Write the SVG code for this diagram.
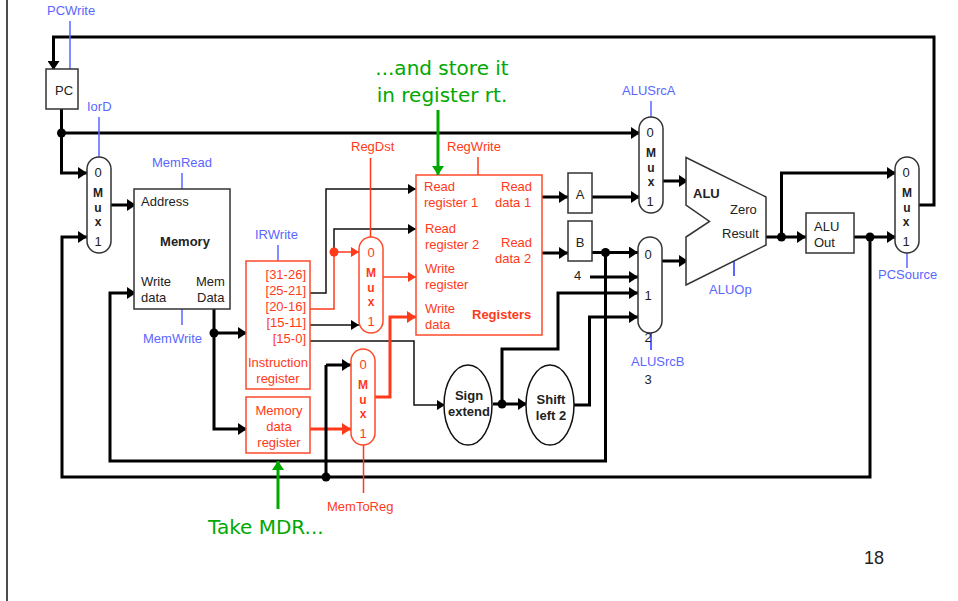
<svg xmlns="http://www.w3.org/2000/svg" width="958" height="601" viewBox="0 0 958 601">
<style>
text{font-family:"Liberation Sans",Arial,sans-serif;font-size:13px;fill:#222}
.b{font-weight:700}
.x{font-size:12px}
.m{text-anchor:middle}
.e{text-anchor:end}
.r{fill:#ff3a1a}
.u{fill:#5a66ff}
.g{font-family:"DejaVu Sans",Verdana,sans-serif;font-size:20px;fill:#00a800}
.box{fill:#fff;stroke:#333;stroke-width:1.5}
.rbox{fill:#fff;stroke:#ff4a2a;stroke-width:1.5}
.w{fill:none;stroke:#000;stroke-width:3;stroke-linejoin:miter}
.wa{fill:none;stroke:#000;stroke-width:3;marker-end:url(#ak)}
.t{fill:none;stroke:#111;stroke-width:1.5}
.ta{fill:none;stroke:#111;stroke-width:1.5;marker-end:url(#as)}
.ra{fill:none;stroke:#ff3a1a;stroke-width:1.5;marker-end:url(#ar)}
.rt{fill:none;stroke:#ff3a1a;stroke-width:1.5}
.rw{fill:none;stroke:#ff3a1a;stroke-width:3;marker-end:url(#ar2)}
.ub{fill:none;stroke:#5a66ff;stroke-width:1.5}
.gl{fill:none;stroke:#00a800;stroke-width:3;marker-end:url(#ag)}
</style>
<defs>
<marker id="ak" markerUnits="userSpaceOnUse" markerWidth="9" markerHeight="12" refX="9" refY="6" orient="auto"><path d="M0 0L9 6L0 12Z" fill="#000"/></marker>
<marker id="as" markerUnits="userSpaceOnUse" markerWidth="8" markerHeight="10" refX="8" refY="5" orient="auto"><path d="M0 0L8 5L0 10Z" fill="#000"/></marker>
<marker id="ar" markerUnits="userSpaceOnUse" markerWidth="8" markerHeight="10" refX="8" refY="5" orient="auto"><path d="M0 0L8 5L0 10Z" fill="#ff3a1a"/></marker>
<marker id="ar2" markerUnits="userSpaceOnUse" markerWidth="9" markerHeight="12" refX="9" refY="6" orient="auto"><path d="M0 0L9 6L0 12Z" fill="#ff3a1a"/></marker>
<marker id="ag" markerUnits="userSpaceOnUse" markerWidth="9" markerHeight="12" refX="9" refY="6" orient="auto"><path d="M0 0L9 6L0 12Z" fill="#00a800"/></marker>
</defs>
<rect width="958" height="601" fill="#fff"/>
<path d="M7 0V601" stroke="#111" stroke-width="1.5" fill="none"/>

<g id="connectors">
<path class="wa" d="M918 205H934V37H53.500V70"/>
<path class="w" d="M61.500 109V133"/>
<path class="wa" d="M61.500 133V173H87"/>
<path class="wa" d="M61.500 133H640"/>
<path class="wa" d="M111 205H136"/>
<path class="wa" d="M870 237V477H62V237H87"/>
<path class="wa" d="M605.500 252.500V461H110V293H136"/>
<path class="wa" d="M214 309V429H247"/>
<path class="wa" d="M214 333H247"/>
<path class="ta" d="M310 293H326V189H416"/>
<path class="ta" d="M334 252V229H416"/>
<path class="rt" d="M310 309H334V252"/>
<path class="ra" d="M334 252H359"/>
<path class="ta" d="M310 325H359"/>
<path class="ta" d="M310 341H414V405H445"/>
<path class="ra" d="M383 277H416"/>
<path class="rw" d="M310 429H351"/>
<path class="rw" d="M375 397H390V317H416"/>
<path class="wa" d="M542 197H568"/>
<path class="wa" d="M542 253H568"/>
<path class="wa" d="M592 197H640"/>
<path class="wa" d="M592 252.500H638"/>
<path class="wa" d="M590 277H638"/>
<path class="wa" d="M502 404V349H558V293H638"/>
<path class="wa" d="M574 405H589.500V317H638"/>
<path class="wa" d="M493 404H527"/>
<path class="wa" d="M663 181H688"/>
<path class="wa" d="M662 261H688"/>
<path class="wa" d="M766 237H806"/>
<path class="wa" d="M781.500 237V173H896"/>
<path class="wa" d="M854 237H896"/>
<path class="w" d="M326 477V365"/>
<path class="wa" d="M326 365H351"/>
<path class="ub" d="M70 21V69M99 117V157M182 173V189M182 309V325M278 245V261M651 101V117M907 253V268"/>
<path class="ub" d="M651 333V350M734 261V276" style="stroke-width:2"/>
<path class="rt" d="M370.500 158V237M478 157V175M363.500 445V493"/>
<circle cx="61.500" cy="133" r="4.500"/>
<circle cx="214" cy="333" r="4.500"/>
<circle cx="334" cy="252" r="4.500" fill="#ff3a1a"/>
<circle cx="605.500" cy="252.500" r="4.500"/>
<circle cx="326" cy="477" r="4.500"/>
<circle cx="502" cy="404" r="4.500"/>
<circle cx="781.500" cy="237" r="4.500"/>
<circle cx="870" cy="237" r="4.500"/>
</g>

<g id="pc"><rect class="box" x="46" y="69" width="32" height="40"/><text x="55" y="95">PC</text></g>
<g id="pcwrite"><text class="u" x="47" y="15">PCWrite</text></g>
<g id="iord"><text class="u" x="87" y="111">IorD</text></g>

<g id="mux-iord"><rect class="box" x="87" y="157" width="24" height="96" rx="12"/>
<text class="m" x="98" y="177">0</text><text class="m b x" x="98" y="197">M</text><text class="m b x" x="98" y="212">u</text><text class="m b x" x="98" y="226">x</text><text class="m" x="98" y="246">1</text></g>

<g id="memory"><rect class="box" x="134" y="189" width="96" height="120"/>
<text x="141" y="206">Address</text><text class="b m" x="185" y="246">Memory</text>
<text x="141" y="286">Write</text><text x="141" y="302">data</text>
<text x="196" y="286">Mem</text><text x="197" y="302">Data</text></g>
<g id="memread"><text class="u" x="152" y="167">MemRead</text></g>
<g id="memwrite"><text class="u" x="143" y="343">MemWrite</text></g>

<g id="ir"><rect class="rbox" x="246" y="261" width="64" height="128"/>
<text class="r e" x="306" y="279">[31-26]</text><text class="r e" x="306" y="295">[25-21]</text><text class="r e" x="306" y="311">[20-16]</text><text class="r e" x="306" y="327">[15-11]</text><text class="r e" x="306" y="343">[15-0]</text>
<text class="r m" x="278" y="367">Instruction</text><text class="r m" x="278" y="383">register</text></g>
<g id="irwrite"><text class="u" x="255" y="239">IRWrite</text></g>
<g id="mdr"><rect class="rbox" x="246" y="397" width="64" height="56"/>
<text class="r m" x="279" y="415">Memory</text><text class="r m" x="279" y="431">data</text><text class="r m" x="279" y="447">register</text></g>

<g id="mux-regdst"><rect class="rbox" x="359" y="237" width="24" height="96" rx="12"/>
<text class="r m" x="371" y="257">0</text><text class="r m b x" x="371" y="277">M</text><text class="r m b x" x="371" y="292">u</text><text class="r m b x" x="371" y="306">x</text><text class="r m" x="371" y="326">1</text></g>
<g id="regdst"><text class="r" x="351" y="151">RegDst</text></g>
<g id="mux-memtoreg"><rect class="rbox" x="351" y="349" width="24" height="96" rx="12"/>
<text class="r m" x="363" y="369">0</text><text class="r m b x" x="363" y="389">M</text><text class="r m b x" x="363" y="404">u</text><text class="r m b x" x="363" y="418">x</text><text class="r m" x="363" y="438">1</text></g>
<g id="memtoreg"><text class="r" x="327" y="511">MemToReg</text></g>

<g id="registers"><rect class="rbox" x="416" y="175" width="126" height="160" style="fill:none"/>
<text class="r" x="424" y="191">Read</text><text class="r" x="424" y="207">register 1</text>
<text class="r" x="425" y="233">Read</text><text class="r" x="425" y="249">register 2</text>
<text class="r" x="425" y="273">Write</text><text class="r" x="425" y="289">register</text>
<text class="r" x="425" y="313">Write</text><text class="r" x="425" y="329">data</text>
<text class="r" x="501" y="191">Read</text><text class="r" x="495" y="207">data 1</text>
<text class="r" x="501" y="247">Read</text><text class="r" x="495" y="263">data 2</text>
<text class="r b" x="472" y="319">Registers</text></g>
<g id="regwrite"><text class="r" x="447" y="151">RegWrite</text></g>

<g id="a"><rect class="box" x="568" y="173" width="24" height="40"/><text class="m" x="580" y="199">A</text></g>
<g id="b"><rect class="box" x="568" y="221" width="24" height="40"/><text class="m" x="580" y="247">B</text></g>
<g id="four"><text x="574" y="280">4</text></g>

<g id="sign"><ellipse cx="468" cy="405" rx="24" ry="40" fill="#fff" stroke="#111" stroke-width="1.500"/>
<text class="b m" x="469" y="400">Sign</text><text class="b m" x="469" y="416">extend</text></g>
<g id="shift"><ellipse cx="550" cy="405" rx="24" ry="40" fill="#fff" stroke="#111" stroke-width="1.500"/>
<text class="b m" x="551" y="404">Shift</text><text class="b m" x="551" y="420">left 2</text></g>

<g id="mux-alusrca"><rect class="box" x="639" y="117" width="24" height="96" rx="12"/>
<text class="m" x="650" y="137">0</text><text class="m b x" x="651" y="157">M</text><text class="m b x" x="651" y="172">u</text><text class="m b x" x="651" y="186">x</text><text class="m" x="650" y="206">1</text></g>
<g id="alusrca"><text class="u" x="622" y="95">ALUSrcA</text></g>
<g id="mux-alusrcb"><rect class="box" x="638" y="237" width="24" height="96" rx="12"/>
<text class="m" x="648" y="259">0</text><text class="m" x="648" y="300">1</text><text class="m" x="648" y="342">2</text><text class="m" x="648" y="384">3</text></g>
<g id="alusrcb"><text class="u" x="631" y="366">ALUSrcB</text></g>

<g id="alu"><path class="box" d="M686 157.500L766 197V245L686 285V237L709.500 221.500L686 205Z"/>
<text class="b" x="693" y="198">ALU</text><text x="730" y="214">Zero</text><text x="722" y="238">Result</text></g>
<g id="aluop"><text class="u" x="709" y="294">ALUOp</text></g>
<g id="aluout"><rect class="box" x="806" y="213" width="48" height="40"/><text x="814" y="231">ALU</text><text x="814" y="247">Out</text></g>

<g id="mux-pcsource"><rect class="box" x="895" y="157" width="24" height="96" rx="12"/>
<text class="m" x="906" y="177">0</text><text class="m b x" x="907" y="197">M</text><text class="m b x" x="907" y="212">u</text><text class="m b x" x="906" y="226">x</text><text class="m" x="906" y="246">1</text></g>
<g id="pcsource"><text class="u" x="878" y="279">PCSource</text></g>

<g id="note-store"><text class="g m" x="442" y="75">...and store it</text><text class="g m" x="442" y="102">in register rt.</text><path class="gl" d="M438 110V175"/></g>
<g id="note-mdr"><text class="g" x="208" y="534">Take MDR...</text><path class="gl" d="M278 509V461"/></g>
<g id="page"><text x="864" y="564" style="font-size:18px">18</text></g>
</svg>
